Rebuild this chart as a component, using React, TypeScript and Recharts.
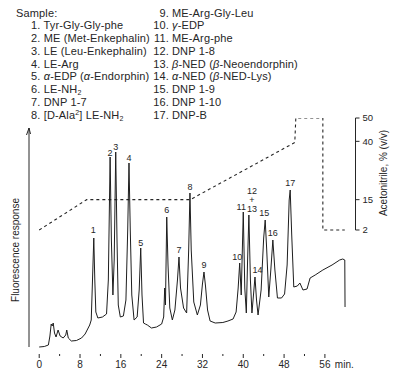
import React from 'react';
import { ComposedChart, Line, XAxis, YAxis, ReferenceLine, ReferenceDot } from 'recharts';

// chromatogram trace: retention time (min) / fluorescence response (arb. units)
const traceTime = [
  0, 1, 1.8, 2.1, 2.35, 2.55, 2.75, 3.0, 3.3, 3.7, 4.1, 4.7, 5.2, 5.4, 5.7, 6.3, 7.3, 8.3, 9.0, 9.6,
  9.9, 10.2, 10.45, 10.7, 10.9, 11.1, 11.5, 12.4, 13.2, 13.55, 13.9, 14.15, 14.45, 14.7, 15.0, 15.25, 15.5, 15.9, 16.5, 17.0,
  17.35, 17.6, 17.85, 18.15, 18.6, 19.2, 19.6, 19.9, 20.15, 20.45, 20.8, 21.2, 22.0, 23.0, 24.0, 24.4, 24.6, 24.75, 25.0, 25.25,
  25.6, 26.1, 26.6, 27.1, 27.4, 27.7, 28.3, 28.9, 29.3, 29.55, 29.8, 30.3, 31.0, 31.6, 32.0, 32.3, 32.6, 33.0, 33.5, 34.5,
  36.0, 37.0, 38.0, 38.6, 39.0, 39.3, 39.6, 40.0, 40.3, 40.6, 40.85, 41.1, 41.4, 41.7, 42.0, 42.3, 42.6, 42.9, 43.5, 44.0,
  44.3, 44.6, 45.0, 45.4, 45.8, 46.2, 46.7, 47.5, 48.1, 48.6, 49.0, 49.2, 49.5, 49.9, 50.6, 51.1, 51.7, 52.5, 53.1, 54.1,
  55.6, 57.4, 58.9, 59.5, 59.9, 59.95,
];
const traceResponse = [
  3, 3.5, 5, 14, 26, 24, 27, 17, 13, 20, 14, 12, 15, 20, 12, 9, 9.5, 12, 16, 22,
  25, 30, 70, 112, 70, 38, 32, 33, 36, 70, 193, 110, 55, 90, 198, 110, 45, 33, 34, 50,
  120, 187, 120, 55, 30, 33, 60, 102, 55, 27, 26, 25, 22, 23, 26, 33, 62, 45, 133, 85,
  42, 30, 40, 70, 93, 62, 42, 37, 100, 157, 100, 48, 35, 45, 66, 78, 64, 40, 29, 27,
  27.5, 29, 31, 38, 62, 87, 55, 138, 62, 37, 90, 135, 70, 37, 55, 73, 50, 35, 60, 112,
  130, 100, 53, 80, 110, 80, 52, 52, 56, 85, 150, 160, 115, 63, 64, 67, 60, 61, 72, 75,
  80, 85, 90, 91, 90, 43,
];

// acetonitrile gradient, % (v/v)
const gradTime = [0, 9.3, 29.6, 50.1, 50.3, 55.6, 55.6, 59.9];
const gradAcn = [2, 15, 15, 39.5, 50, 50, 2, 2];

const peakLabels = ['1', '2', '3', '4', '5', '6', '7', '8', '9', '10', '11', '12\n+\n13', '14', '15', '16', '17'];
const peakLabelTime = [10.6, 13.9, 15.0, 17.6, 19.9, 25.0, 27.4, 29.55, 32.3, 38.8, 39.6, 41.7, 42.8, 44.1, 45.8, 49.2];
const peakLabelLevel = [120, 197, 203, 192, 107, 140, 100, 163, 85, 93, 143, 150, 80, 137, 117, 167];

const majorTicks = [0, 8, 16, 24, 32, 40, 48, 56];
const minorTicks = [4, 12, 20, 28, 36, 44, 52];
const unitTick = 60;
const acnTicks = [2, 15, 40, 50];

const sampleNumbers = ['1.', '2.', '3.', '4.', '5.', '6.', '7.', '8.', '9.', '10.', '11.', '12.', '13.', '14.', '15.', '16.', '17.'];
const sampleNames = [
  'Tyr-Gly-Gly-phe',
  'ME (Met-Enkephalin)',
  'LE (Leu-Enkephalin)',
  'LE-Arg',
  'α-EDP (α-Endorphin)',
  'LE-NH_2',
  'DNP 1-7',
  '[D-Ala^2] LE-NH_2',
  'ME-Arg-Gly-Leu',
  'γ-EDP',
  'ME-Arg-phe',
  'DNP 1-8',
  'β-NED (β-Neoendorphin)',
  'α-NED (β-NED-Lys)',
  'DNP 1-9',
  'DNP 1-10',
  'DNP-B',
];

const trace = traceTime.map((t, i) => ({ t, v: traceResponse[i] }));
const gradient = gradTime.map((t, i) => ({ t, acn: gradAcn[i] }));

const INK = '#262626';

// greek letters italic, _2 subscript, ^2 superscript
function renderName(name: string) {
  return name.split(/([αβγ]|_2|\^2)/).filter(Boolean).map((part, i) => {
    if (part === '_2') return <span key={i} style={{ fontSize: '7px', position: 'relative', top: 2, lineHeight: 0 }}>2</span>;
    if (part === '^2') return <span key={i} style={{ fontSize: '7px', position: 'relative', top: -4, lineHeight: 0 }}>2</span>;
    if (/[αβγ]/.test(part)) return <i key={i}>{part}</i>;
    return <span key={i}>{part}</span>;
  });
}

const TimeTick = (props: any) => {
  const { x, y, payload } = props;
  const v = payload.value;
  const major = majorTicks.includes(v);
  if (v === unitTick) {
    return <text x={x - 1} y={y + 17.5} textAnchor="middle" fontSize={10} fill={INK}>min.</text>;
  }
  return (
    <g>
      <line x1={x} x2={x} y1={y + 4} y2={y + (major ? 8 : 6)} stroke={INK} strokeWidth={1} />
      {major && <text x={x} y={y + 17.5} textAnchor="middle" fontSize={10} fill={INK}>{v}</text>}
    </g>
  );
};

const PeakText = (label: string) => (p: any) => {
  const lines = label.split('\n');
  const start = p.cy - ((lines.length - 1) * 9) / 2;
  return (
    <g>
      {lines.map((ln, i) => (
        <text key={i} x={p.cx} y={start + i * 9} dy={3.3} textAnchor="middle" fontSize={9} fill={INK}>{ln}</text>
      ))}
    </g>
  );
};

const ArrowHead = (p: any) => (
  <path d={`M${p.cx - 2.5},${p.cy + 7} L${p.cx},${p.cy} L${p.cx + 1.5},${p.cy + 6}`} fill="none" stroke={INK} strokeWidth={1} />
);

export default function App() {
  const col1 = sampleNames.slice(0, 8);
  const col2 = sampleNames.slice(8);
  const rowH = 12.75;
  const legendFont = { fontSize: '11px', letterSpacing: '0.15px', lineHeight: `${rowH}px`, whiteSpace: 'nowrap' as const };

  return (
    <div style={{ position: 'absolute', left: 0, top: 0, width: 398, height: 381, background: '#fff', fontFamily: '"Liberation Sans", Arial, sans-serif', color: INK }}>
      {/* sample legend */}
      <div style={{ position: 'absolute', left: 16, top: 13 - rowH / 2, ...legendFont }}>
        <div>Sample:</div>
        {col1.map((name, i) => (
          <div key={i} style={{ paddingLeft: 15 }}>{sampleNumbers[i]} {renderName(name)}</div>
        ))}
      </div>
      <div style={{ position: 'absolute', left: 149, top: 13 - rowH / 2, ...legendFont }}>
        {col2.map((name, i) => (
          <div key={i} style={{ display: 'flex' }}>
            <span style={{ width: 20, textAlign: 'right', marginRight: 3 }}>{sampleNumbers[i + 8]}</span>
            <span>{renderName(name)}</span>
          </div>
        ))}
      </div>

      <ComposedChart width={398} height={381} margin={{ top: 118, right: 0, bottom: 0, left: 29 }} style={{ position: 'absolute', left: 0, top: 0 }}>
        <XAxis
          dataKey="t"
          type="number"
          domain={[-2, 62]}
          allowDataOverflow
          ticks={[...majorTicks, ...minorTicks, unitTick].sort((a, b) => a - b)}
          interval={0}
          axisLine={false}
          tickLine={false}
          tickSize={0}
          tickMargin={0}
          height={31}
          tick={<TimeTick />}
        />
        <YAxis yAxisId="f" type="number" domain={[0, 232]} allowDataOverflow hide />
        <YAxis
          yAxisId="acn"
          orientation="right"
          type="number"
          domain={[-49.43, 50]}
          allowDataOverflow
          ticks={acnTicks}
          interval={0}
          width={42.5}
          axisLine={false}
          tickSize={4}
          tickMargin={3}
          tickLine={{ stroke: INK }}
          tick={{ fontSize: 9.5, fill: INK }}
        />

        {/* response axis with arrow */}
        <ReferenceLine yAxisId="f" segment={[{ x: -2, y: 3 }, { x: -2, y: 222 }]} stroke={INK} strokeWidth={1} />
        <ReferenceDot yAxisId="f" x={-2} y={222} r={0} shape={ArrowHead} />
        {/* gradient axis */}
        <ReferenceLine yAxisId="acn" segment={[{ x: 62, y: 2 }, { x: 62, y: 50 }]} stroke={INK} strokeWidth={1} />

        <Line yAxisId="acn" data={gradient} dataKey="acn" type="linear" stroke={INK} strokeWidth={1.1} strokeDasharray="3 3" dot={false} isAnimationActive={false} />
        <Line yAxisId="f" data={trace} dataKey="v" type="linear" stroke="#1e1e1e" strokeWidth={1} dot={false} isAnimationActive={false} />

        {peakLabels.map((lab, i) => (
          <ReferenceDot key={lab} yAxisId="f" x={peakLabelTime[i]} y={peakLabelLevel[i]} r={0} shape={PeakText(lab)} />
        ))}
      </ComposedChart>

      {/* axis titles */}
      <div style={{ position: 'absolute', left: 15, top: 250, transform: 'translate(-50%, -50%) rotate(-90deg)', fontSize: '10px', whiteSpace: 'nowrap' }}>
        Fluorescence response
      </div>
      <div style={{ position: 'absolute', left: 383, top: 173, transform: 'translate(-50%, -50%) rotate(-90deg)', fontSize: '10px', whiteSpace: 'nowrap' }}>
        Acetonitrile, % (v/v)
      </div>
    </div>
  );
}
